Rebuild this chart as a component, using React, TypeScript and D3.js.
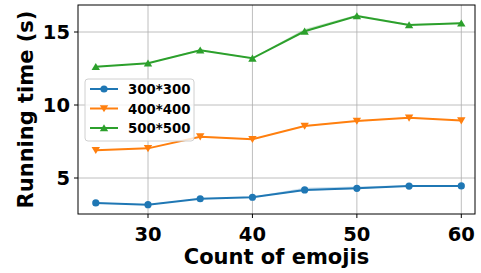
import React from "react";
import * as d3 from "d3";

const counts = [25, 30, 35, 40, 45, 50, 55, 60];
const s300 = [3.29, 3.17, 3.58, 3.68, 4.18, 4.29, 4.45, 4.46];
const s400 = [6.9, 7.03, 7.83, 7.65, 8.56, 8.9, 9.12, 8.93];
const s500 = [12.62, 12.86, 13.75, 13.2, 15.05, 16.1, 15.48, 15.6];
// small upper spread of the shaded band
const band300 = [0.03, 0.03, 0.04, 0.04, 0.15, 0.12, 0.06, 0.03];
const band400 = [0.03, 0.03, 0.04, 0.04, 0.06, 0.05, 0.04, 0.03];
const band500 = [0.03, 0.03, 0.06, 0.04, 0.15, 0.08, 0.06, 0.05];
const seriesNames = ["300*300", "400*400", "500*500"];
const xTicks = [30, 40, 50, 60];
const yTicks = [5, 10, 15];

const colors = ["#1f77b4", "#ff7f0e", "#2ca02c"];
const FONT = "DejaVu Sans, sans-serif";

function Marker({ kind, x, y, color }: { kind: number; x: number; y: number; color: string }) {
  if (kind === 0) return <circle cx={x} cy={y} r={3.6} fill={color} />;
  const s = 4.2;
  if (kind === 1)
    return <path d={`M${x - s},${y - s * 0.8}L${x + s},${y - s * 0.8}L${x},${y + s * 0.9}Z`} fill={color} />;
  return <path d={`M${x - s},${y + s * 0.8}L${x + s},${y + s * 0.8}L${x},${y - s * 0.9}Z`} fill={color} />;
}

export default function App() {
  const left = 78, right = 475, top = 5, bottom = 214;
  const x = d3.scaleLinear().domain([30, 60]).range([148, 461.3]);
  const y = d3.scaleLinear().domain([5, 15]).range([178, 32]);
  const all = [s300, s400, s500];
  const bands = [band300, band400, band500];
  const line = d3
    .line<number>()
    .x((_, i) => x(counts[i]))
    .y((d) => y(d));
  const area = (vals: number[], b: number[]) =>
    d3
      .area<number>()
      .x((_, i) => x(counts[i]))
      .y0((d, i) => y(d - b[i] * 0.3))
      .y1((d, i) => y(d + b[i]))(vals) || "";

  return (
    <svg
      width={481}
      height={273}
      style={{ position: "absolute", left: 0, top: 0, background: "#fff" }}
      fontFamily={FONT}
    >
      <rect x={0} y={0} width={481} height={273} fill="#fff" />
      {/* grid */}
      {xTicks.map((t) => (
        <line key={"gx" + t} x1={x(t)} x2={x(t)} y1={top} y2={bottom} stroke="#b0b0b0" strokeWidth={1} opacity={0.8} />
      ))}
      {yTicks.map((t) => (
        <line key={"gy" + t} x1={left} x2={right} y1={y(t)} y2={y(t)} stroke="#b0b0b0" strokeWidth={1} opacity={0.8} />
      ))}
      {/* bands */}
      {all.map((vals, k) => (
        <path key={"b" + k} d={area(vals, bands[k])} fill={colors[k]} opacity={0.25} />
      ))}
      {/* lines */}
      {all.map((vals, k) => (
        <g key={"s" + k}>
          <path d={line(vals) || ""} fill="none" stroke={colors[k]} strokeWidth={2} />
          {vals.map((v, i) => (
            <Marker key={i} kind={k} x={x(counts[i])} y={y(v)} color={colors[k]} />
          ))}
        </g>
      ))}
      {/* frame */}
      <rect x={left} y={top} width={right - left} height={bottom - top} fill="none" stroke="#000" strokeWidth={1} />
      {/* ticks */}
      {xTicks.map((t) => (
        <g key={"tx" + t}>
          <line x1={x(t)} x2={x(t)} y1={bottom} y2={bottom + 4} stroke="#000" />
          <text x={x(t)} y={241} textAnchor="middle" fontSize={19.5} fontWeight="bold">
            {t}
          </text>
        </g>
      ))}
      {yTicks.map((t) => (
        <g key={"ty" + t}>
          <line x1={left - 4} x2={left} y1={y(t)} y2={y(t)} stroke="#000" />
          <text x={70} y={y(t) + 7} textAnchor="end" fontSize={19.5} fontWeight="bold">
            {t}
          </text>
        </g>
      ))}
      <text x={(left + right) / 2} y={264} textAnchor="middle" fontSize={21} fontWeight="bold">
        Count of emojis
      </text>
      <text
        transform={`translate(33,${(top + bottom) / 2}) rotate(-90)`}
        textAnchor="middle"
        fontSize={21}
        fontWeight="bold"
      >
        Running time (s)
      </text>
      {/* legend */}
      <g>
        <rect x={85} y={79} width={109} height={62} rx={3} fill="#fff" fillOpacity={0.8} stroke="#d0d0d0" strokeWidth={1} />
        {seriesNames.map((n, k) => {
          const ly = 89 + k * 19.5;
          return (
            <g key={n}>
              <line x1={90} x2={118} y1={ly} y2={ly} stroke={colors[k]} strokeWidth={2} />
              <Marker kind={k} x={104} y={ly} color={colors[k]} />
              <text x={128} y={ly + 5} fontSize={13.3} fontWeight="bold">
                {n}
              </text>
            </g>
          );
        })}
      </g>
    </svg>
  );
}
